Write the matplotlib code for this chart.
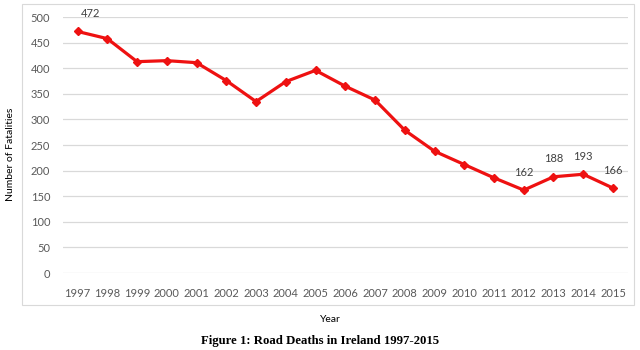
import matplotlib.pyplot as plt
from matplotlib.patches import Rectangle

# Data
years = list(range(1997, 2016))
deaths = [472, 458, 413, 415, 411, 376, 335, 374, 396, 365,
          338, 279, 238, 212, 186, 162, 188, 193, 166]
labelled_years = [1997, 2012, 2013, 2014, 2015]
yticks = list(range(0, 501, 50))

fig = plt.figure(figsize=(6.4, 3.5), dpi=100)
ax = fig.add_axes([0.098, 0.22, 0.883, 0.731])

# outer chart frame
fig.patches.append(Rectangle((0.035, 0.128), 0.955, 0.862, transform=fig.transFigure,
                             fill=False, edgecolor='#d9d9d9', lw=0.8))

ax.plot(years, deaths, color='#ee1111', lw=2.3, marker='D', ms=4.5, zorder=3)

# data labels (first one sits to the right of the point)
for yr, v in zip(years, deaths):
    if yr in labelled_years:
        dx = 9 if yr == 1997 else 0
        ax.annotate(str(v), (yr, v), xytext=(dx, 9), textcoords='offset points',
                    ha='center', va='bottom', fontsize=8, color='#404040',
                    family='Lato', annotation_clip=False)

ax.set_xlim(1996.5, 2015.5)
ax.set_ylim(0, 500)
ax.set_xticks(years)
ax.set_xticklabels([str(y) for y in years])
ax.set_yticks(yticks)
ax.grid(axis='y', color='#d9d9d9', lw=0.9)
ax.set_axisbelow(True)
for s in ax.spines.values():
    s.set_visible(False)
ax.tick_params(axis='both', length=0, labelsize=8, labelcolor='#595959')
ax.tick_params(axis='x', pad=11)
ax.tick_params(axis='y', pad=9)
for lab in ax.get_xticklabels() + ax.get_yticklabels():
    lab.set_family('Lato')

fig.text(0.016, 0.56, 'Number of Fatalities', rotation=90, ha='center', va='center',
         fontsize=7.5, family='Lato', color='#000000')
fig.text(0.516, 0.086, 'Year', ha='center', va='center', fontsize=7.5,
         family='Lato', color='#000000')
fig.text(0.5, 0.026, 'Figure 1: Road Deaths in Ireland 1997-2015', ha='center',
         va='center', fontsize=9.2, family='Liberation Serif', weight='bold')

fig.savefig('out.png', dpi=100)
